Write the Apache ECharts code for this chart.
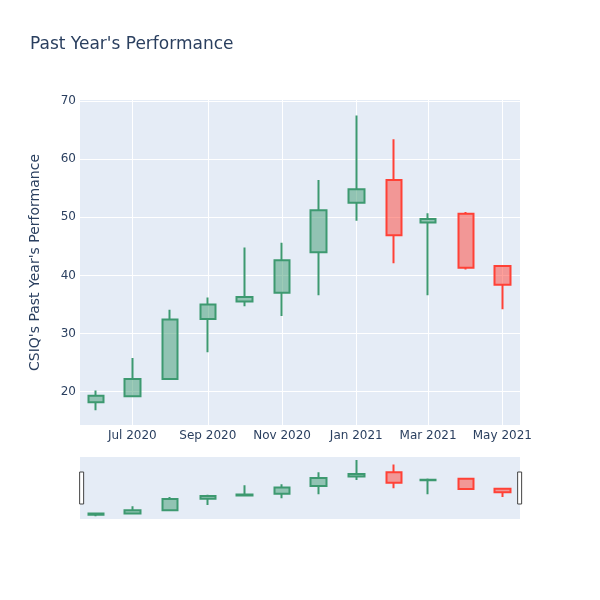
<!DOCTYPE html>
<html><head><meta charset="utf-8">
<script src="https://cdn.jsdelivr.net/npm/echarts@6/dist/echarts.min.js"></script>
<style>html,body{margin:0;padding:0;background:#fff}#c{width:600px;height:600px}</style>
</head><body><div id="c"></div>
<script>
const chartTitle = "Past Year's Performance";
const yAxisName = "CSIQ's Past Year's Performance";
const dates = ['2020-06-01','2020-07-01','2020-08-01','2020-09-01','2020-10-01','2020-11-01','2020-12-01','2021-01-01','2021-02-01','2021-03-01','2021-04-01','2021-05-01'];
const openVals  = [18.2, 19.2, 22.2, 32.5, 35.5, 37.0, 44.0, 52.5, 56.4, 49.1, 50.6, 41.6];
const closeVals = [19.3, 22.2, 32.4, 35.0, 36.3, 42.6, 51.2, 54.8, 46.9, 49.7, 41.3, 38.4];
const lowVals   = [16.8, 19.2, 22.2, 26.8, 34.7, 33.0, 36.6, 49.4, 42.1, 36.6, 41.0, 34.2];
const highVals  = [20.2, 25.8, 34.1, 36.2, 44.8, 45.6, 56.4, 67.5, 63.4, 50.7, 50.9, 41.8];
const xTickDates = ['2020-07-01','2020-09-01','2020-11-01','2021-01-01','2021-03-01','2021-05-01'];
const yTicks = [20, 30, 40, 50, 60, 70];
const xMinDate = '2020-05-19', xMaxDate = '2021-05-15 12:00';
const yMin = 14.27, yMax = 70.17;

const FONT = 'DejaVu Sans';
const TXT = '#2a3f5f';
const ts = d => echarts.time.parse(d).getTime();
const ohlc = dates.map((d, i) => [ts(d), openVals[i], closeVals[i], lowVals[i], highVals[i]]);
const xTickVals = xTickDates.map(ts);
const xMin = ts(xMinDate), xMax = ts(xMaxDate);
const candleStyle = {
  color: 'rgba(61,153,112,0.5)', color0: 'rgba(255,65,54,0.5)',
  borderColor: '#3D9970', borderColor0: '#FF4136', borderWidth: 2
};

const chart = echarts.init(document.getElementById('c'), null, {renderer: 'canvas'});
chart.setOption({
  animation: false,
  backgroundColor: '#fff',
  title: {text: chartTitle, left: 25, top: 31,
    textStyle: {color: TXT, fontSize: 17, fontWeight: 'normal', fontFamily: FONT}},
  grid: [
    {left: 80, right: 80, top: 100, bottom: 175, show: true, backgroundColor: '#E5ECF6', borderWidth: 0, outerBoundsMode: 'none'},
    {left: 80, right: 80, top: 457, height: 62, show: true, backgroundColor: '#E5ECF6', borderWidth: 0, outerBoundsMode: 'none'}
  ],
  xAxis: [
    {type: 'value', gridIndex: 0, min: xMin, max: xMax, scale: true,
      axisLine: {show: false}, axisTick: {show: false, customValues: xTickVals},
      splitLine: {show: true, lineStyle: {color: '#fff', width: 1}},
      axisLabel: {customValues: xTickVals, color: TXT, fontSize: 12, fontFamily: FONT, margin: 5,
        formatter: v => echarts.time.format(v, '{MMM} {yyyy}', false)}},
    {type: 'value', gridIndex: 1, min: xMin, max: xMax, scale: true, show: false, splitLine: {show: false}}
  ],
  yAxis: [
    {type: 'value', gridIndex: 0, min: yMin, max: yMax,
      name: yAxisName, nameLocation: 'middle', nameGap: 38,
      nameTextStyle: {color: TXT, fontSize: 14, fontFamily: FONT},
      axisLine: {show: false}, axisTick: {show: false, customValues: yTicks},
      splitLine: {show: true, lineStyle: {color: '#fff', width: 1}},
      axisLabel: {customValues: yTicks, color: TXT, fontSize: 12, fontFamily: FONT, margin: 4}},
    {type: 'value', gridIndex: 1, min: yMin, max: yMax, show: false, splitLine: {show: false}}
  ],
  dataZoom: [{
    type: 'slider', xAxisIndex: [0, 1], start: 0, end: 100,
    left: 80, right: 80, top: 457, height: 62,
    showDataShadow: false, showDetail: false, brushSelect: false, moveHandleSize: 0,
    backgroundColor: 'rgba(0,0,0,0)', borderColor: 'rgba(0,0,0,0)', fillerColor: 'rgba(0,0,0,0)',
    handleIcon: 'path://M0,0 L4,0 L4,32 L0,32 Z', handleSize: 32,
    handleStyle: {color: '#fff', borderColor: '#444', borderWidth: 1},
    emphasis: {handleStyle: {color: '#fff', borderColor: '#444'}},
    dataBackground: {lineStyle: {opacity: 0}, areaStyle: {opacity: 0}},
    selectedDataBackground: {lineStyle: {opacity: 0}, areaStyle: {opacity: 0}}
  }],
  series: [
    {type: 'candlestick', xAxisIndex: 0, yAxisIndex: 0, data: ohlc, encode: {x: 0, y: [1, 2, 3, 4]},
      barWidth: 16, itemStyle: candleStyle},
    {type: 'candlestick', xAxisIndex: 1, yAxisIndex: 1, data: ohlc, encode: {x: 0, y: [1, 2, 3, 4]},
      barWidth: 16, itemStyle: candleStyle}
  ]
});
</script></body></html>
